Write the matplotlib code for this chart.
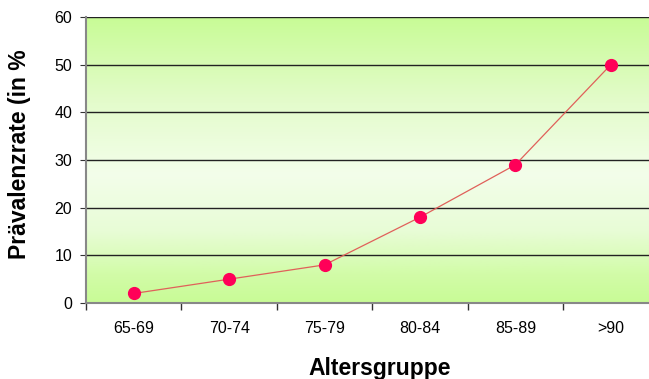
import numpy as np
import matplotlib.pyplot as plt
from matplotlib.colors import LinearSegmentedColormap

plt.rcParams['font.family'] = ['Liberation Sans', 'DejaVu Sans']

gruppen = ['65-69', '70-74', '75-79', '80-84', '85-89', '>90']
rate = [2, 5, 8, 18, 29, 50]
y_ticks = [0, 10, 20, 30, 40, 50, 60]

fig = plt.figure(figsize=(6.49, 3.79), dpi=100)
ax = fig.add_axes([0.1325, 0.2005, 0.8675, 0.7546])

x = np.arange(1, len(gruppen) + 1)

# background gradient: green top, pale middle, green bottom
cmap = LinearSegmentedColormap.from_list(
    'bg', [(0.0, '#c8fb96'), (0.3, '#e4fccc'), (0.55, '#f3feea'),
           (0.75, '#e8fcd6'), (0.9, '#d2fca8'), (1.0, '#c8fb96')])
grad = np.linspace(0, 1, 256).reshape(-1, 1)
ax.imshow(grad, cmap=cmap, aspect='auto', extent=[0.5, 6.4, 0, 60],
          origin='upper', zorder=0)

for yv in y_ticks[1:]:
    ax.axhline(yv, color='#222222', lw=1.0, zorder=1)

ax.plot(x, rate, color='#e0605a', lw=0.9, zorder=2)
ax.plot(x, rate, 'o', color='#ff0058', ms=8.5, mec='#ff0058', zorder=3)

ax.set_xlim(0.5, 6.4)
ax.set_ylim(0, 60)
ax.set_yticks(y_ticks)
ax.set_xticks(x)
ax.set_xticklabels(gruppen)
ax.set_xticks(np.arange(0.5, 6.5, 1.0), minor=True)
ax.tick_params(axis='x', which='major', length=0, pad=13, labelsize=11.5)
ax.tick_params(axis='x', which='minor', length=5, color='#333333', width=1)
ax.tick_params(axis='y', length=4, color='#333333', labelsize=11.5, pad=6)

for s in ['top', 'right']:
    ax.spines[s].set_visible(False)
ax.spines['left'].set_color('#888888')
ax.spines['left'].set_linewidth(1.5)
ax.spines['bottom'].set_color('#888888')
ax.spines['bottom'].set_linewidth(1.5)

ax.set_xlabel('Altersgruppe', fontsize=16.5, fontweight='bold')
ax.xaxis.set_label_coords(0.522, -0.19)
ax.set_ylabel('Prävalenzrate (in %', fontsize=16.5, fontweight='bold')
ax.yaxis.set_label_coords(-0.097, 0.52)

fig.savefig('out.png', dpi=100)
